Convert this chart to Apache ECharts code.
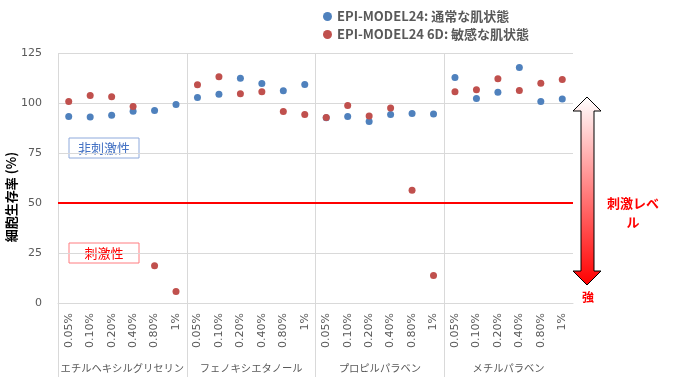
<!DOCTYPE html>
<html>
    <head>
        <meta charset="utf-8">
        <script src="https://cdn.jsdelivr.net/npm/echarts@6/dist/echarts.min.js"></script>
        <style>
            html, body {
                margin: 0;
                padding: 0;
                background: #fff;
            }
            #main {
                width: 676px;
                height: 377px;
            }
        </style>
    </head>
    <body>
        <div id="main"></div>

        <script>
            var groups = ['エチルヘキシルグリセリン', 'フェノキシエタノール', 'プロピルパラベン', 'メチルパラベン'];
            var concentrations = ['0.05%', '0.10%', '0.20%', '0.40%', '0.80%', '1%'];

            // EPI-MODEL24: 通常な肌状態
            var normalSkin = [
                [93.2, 93.0, 93.9, 95.9, 96.2, 99.2],
                [102.7, 104.4, 112.4, 109.7, 106.1, 109.2],
                [92.6, 93.3, 90.7, 94.2, 94.7, 94.5],
                [112.7, 102.2, 105.4, 117.8, 100.7, 102.0]
            ];
            // EPI-MODEL24 6D: 敏感な肌状態
            var sensitiveSkin = [
                [100.7, 103.7, 103.1, 98.2, 18.6, 5.7],
                [109.1, 113.1, 104.6, 105.6, 95.7, 94.3],
                [92.8, 98.7, 93.5, 97.5, 56.4, 13.7],
                [105.6, 106.6, 112.1, 106.2, 109.9, 111.8]
            ];
            var threshold = 50;

            var categories = [];
            groups.forEach(function () {
                concentrations.forEach(function (c) {
                    categories.push(c);
                });
            });
            var flat = function (rows) {
                return [].concat.apply([], rows);
            };

            var num = 'DejaVu Sans';
            var cjk = 'Noto Sans CJK JP';
            var chart = echarts.init(document.getElementById('main'));

            chart.setOption({
                animation: false,
                legend: {
                    orient: 'vertical',
                    left: 318,
                    top: 5,
                    itemGap: 5,
                    itemWidth: 9,
                    itemHeight: 9,
                    icon: 'circle',
                    textStyle: {
                        color: '#595959',
                        fontSize: 13,
                        fontWeight: 'bold',
                        fontFamily: cjk
                    }
                },
                grid: [{
                    left: 58,
                    right: 103,
                    top: 53,
                    bottom: 74,
                    containLabel: false,
                    outerBoundsMode: 'none'
                }, {
                    // group band: separators run down through the labels
                    left: 58,
                    right: 103,
                    top: 53,
                    bottom: 0,
                    containLabel: false,
                    outerBoundsMode: 'none'
                }],
                xAxis: [{
                    type: 'category',
                    data: categories,
                    boundaryGap: true,
                    axisLine: {lineStyle: {color: '#d9d9d9'}},
                    axisTick: {show: false},
                    axisLabel: {
                        interval: 0,
                        rotate: 90,
                        margin: 10,
                        color: '#595959',
                        fontSize: 11,
                        fontFamily: num
                    },
                    splitLine: {show: false}
                }, {
                    type: 'category',
                    gridIndex: 1,
                    data: groups,
                    position: 'bottom',
                    boundaryGap: true,
                    axisLine: {show: false},
                    axisTick: {show: false},
                    axisLabel: {
                        interval: 0,
                        inside: true,
                        margin: 4,
                        color: '#595959',
                        fontSize: 10.3,
                        fontFamily: cjk
                    },
                    splitLine: {
                        show: true,
                        interval: 0,
                        showMinLine: true,
                        showMaxLine: false,
                        lineStyle: {color: '#d9d9d9'}
                    }
                }],
                yAxis: [{
                    type: 'value',
                    min: 0,
                    max: 125,
                    interval: 25,
                    axisLine: {show: false},
                    axisTick: {show: false},
                    axisLabel: {
                        margin: 16,
                        color: '#595959',
                        fontSize: 11,
                        fontFamily: num
                    },
                    splitLine: {lineStyle: {color: '#d9d9d9'}}
                }, {
                    type: 'value',
                    gridIndex: 1,
                    show: false
                }],
                series: [{
                    name: 'EPI-MODEL24: 通常な肌状態',
                    type: 'scatter',
                    symbolSize: 7,
                    itemStyle: {color: '#4f81bd', opacity: 1},
                    data: flat(normalSkin)
                }, {
                    name: 'EPI-MODEL24 6D: 敏感な肌状態',
                    type: 'scatter',
                    symbolSize: 7,
                    itemStyle: {color: '#c0504d', opacity: 1},
                    data: flat(sensitiveSkin),
                    markLine: {
                        silent: true,
                        symbol: 'none',
                        label: {show: false},
                        lineStyle: {color: '#ff0000', width: 2, type: 'solid'},
                        data: [{yAxis: threshold}]
                    }
                }],
                graphic: [{
                    // y axis title, sits a little below the plot's middle
                    type: 'text',
                    x: 11,
                    y: 197,
                    rotation: Math.PI / 2,
                    style: {
                        text: '細胞生存率 (%)',
                        fill: '#000',
                        font: 'bold 13px "Noto Sans CJK JP"',
                        align: 'center',
                        verticalAlign: 'middle'
                    }
                }, {
                    type: 'rect',
                    shape: {x: 69, y: 138, width: 70, height: 20},
                    style: {fill: '#fff', stroke: '#8faadc', lineWidth: 1}
                }, {
                    type: 'text',
                    x: 104,
                    y: 148,
                    style: {
                        text: '非刺激性',
                        fill: '#4472c4',
                        font: '13px "Noto Sans CJK JP"',
                        align: 'center',
                        verticalAlign: 'middle'
                    }
                }, {
                    type: 'rect',
                    shape: {x: 69, y: 243, width: 70, height: 20},
                    style: {fill: '#fff', stroke: '#ff7c80', lineWidth: 1}
                }, {
                    type: 'text',
                    x: 104,
                    y: 253,
                    style: {
                        text: '刺激性',
                        fill: '#ff0000',
                        font: '13px "Noto Sans CJK JP"',
                        align: 'center',
                        verticalAlign: 'middle'
                    }
                }, {
                    type: 'polygon',
                    shape: {
                        points: [
                            [587, 97], [601, 111], [594, 111], [594, 271], [601, 271],
                            [587, 285], [573, 271], [581, 271], [581, 111], [573, 111]
                        ]
                    },
                    style: {
                        fill: new echarts.graphic.LinearGradient(0, 0, 0, 1, [
                            {offset: 0, color: '#ffffff'},
                            {offset: 1, color: '#ff0000'}
                        ]),
                        stroke: '#000',
                        lineWidth: 1
                    }
                }, {
                    type: 'text',
                    x: 633,
                    y: 213,
                    style: {
                        text: '刺激レベ\nル',
                        fill: '#ff0000',
                        font: 'bold 13px "Noto Sans CJK JP"',
                        align: 'center',
                        verticalAlign: 'middle',
                        lineHeight: 19
                    }
                }, {
                    type: 'text',
                    x: 588,
                    y: 297,
                    style: {
                        text: '強',
                        fill: '#ff0000',
                        font: 'bold 12px "Noto Sans CJK JP"',
                        align: 'center',
                        verticalAlign: 'middle'
                    }
                }]
            });
        </script>
    </body>
</html>
